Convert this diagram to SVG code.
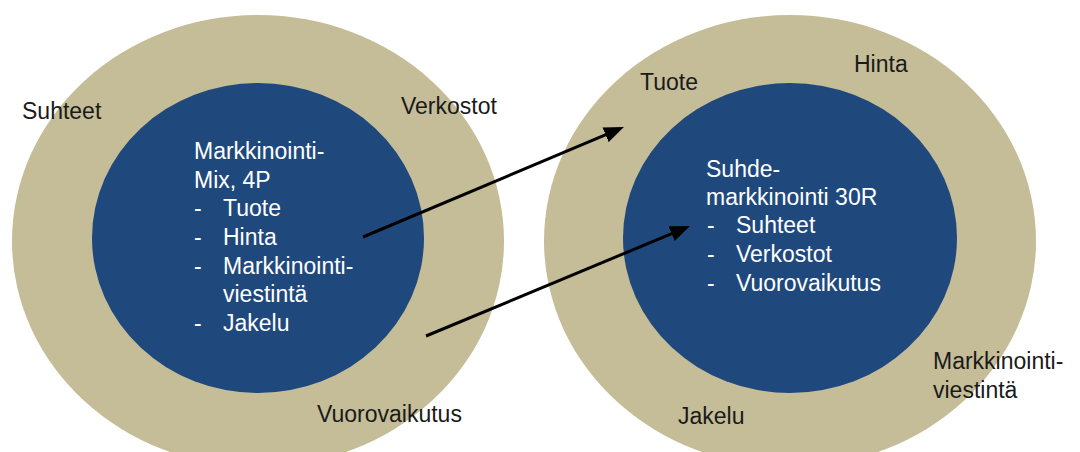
<svg xmlns="http://www.w3.org/2000/svg" width="1080" height="452" viewBox="0 0 1080 452">
  <style>
    .outer { fill: #C4BD97; }
    .inner { fill: #1F497D; }
    text { font-family: "Liberation Sans", Arial, sans-serif; font-size: 23px; }
    .dark { fill: #1a1a1a; }
    .light { fill: #ffffff; }
    .conn { stroke: #000000; stroke-width: 3; fill: none; marker-end: url(#head); }
  </style>
  <defs>
    <marker id="head" viewBox="0 0 20 16" refX="12" refY="8" markerWidth="20" markerHeight="16" markerUnits="userSpaceOnUse" orient="auto">
      <path d="M0,0 L20,8 L0,16 z" fill="#000000"/>
    </marker>
  </defs>
  <rect width="1080" height="452" fill="#ffffff"/>

  <g id="left-circle">
    <ellipse class="outer" cx="258" cy="241" rx="246" ry="226"/>
    <ellipse class="inner" cx="258" cy="238" rx="166" ry="155"/>
    <text class="dark" x="22" y="119">Suhteet</text>
    <text class="dark" x="401" y="114">Verkostot</text>
    <text class="dark" x="317" y="422">Vuorovaikutus</text>
    <text class="light" x="194" y="159">Markkinointi-</text>
    <text class="light" x="194" y="188">Mix, 4P</text>
    <text class="light" x="194" y="216">-</text><text class="light" x="223" y="216">Tuote</text>
    <text class="light" x="194" y="245">-</text><text class="light" x="223" y="245">Hinta</text>
    <text class="light" x="194" y="274">-</text><text class="light" x="223" y="274">Markkinointi-</text>
    <text class="light" x="223" y="302">viestintä</text>
    <text class="light" x="194" y="331">-</text><text class="light" x="223" y="331">Jakelu</text>
  </g>

  <g id="right-circle">
    <ellipse class="outer" cx="790" cy="241" rx="246" ry="226"/>
    <ellipse class="inner" cx="790" cy="238" rx="167" ry="155"/>
    <text class="dark" x="640" y="90">Tuote</text>
    <text class="dark" x="854" y="72">Hinta</text>
    <text class="dark" x="933" y="369">Markkinointi-</text>
    <text class="dark" x="933" y="398">viestintä</text>
    <text class="dark" x="678" y="424">Jakelu</text>
    <text class="light" x="706" y="177">Suhde-</text>
    <text class="light" x="706" y="205">markkinointi 30R</text>
    <text class="light" x="707" y="233">-</text><text class="light" x="736" y="233">Suhteet</text>
    <text class="light" x="707" y="262">-</text><text class="light" x="736" y="262">Verkostot</text>
    <text class="light" x="707" y="291">-</text><text class="light" x="736" y="291">Vuorovaikutus</text>
  </g>

  <g id="connectors">
    <line class="conn" x1="363" y1="237" x2="616.6" y2="130.1"/>
    <line class="conn" x1="426" y1="336" x2="682.6" y2="229.1"/>
  </g>
</svg>
